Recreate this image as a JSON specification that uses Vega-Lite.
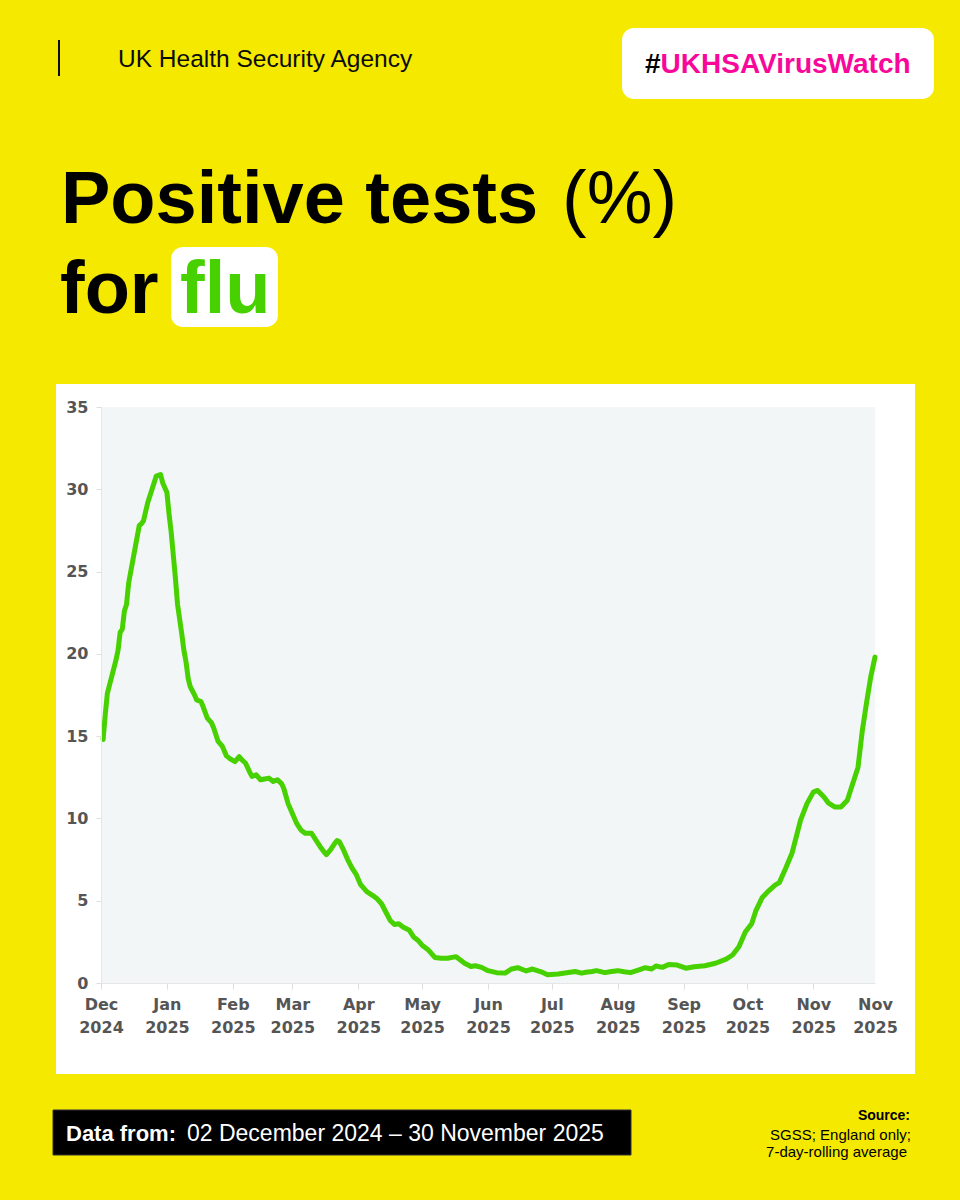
{
  "$schema": "https://vega.github.io/schema/vega-lite/v6.json",
  "width": 774,
  "height": 576,
  "autosize": {"type": "none"},
  "padding": {"left": 101, "top": 407, "right": 85, "bottom": 217},
  "background": "#F5E900",
  "config": {"view": {"stroke": null}, "font": "Liberation Sans"},
  "layer": [
    {
      "data": {"values": [{}]},
      "mark": {"type": "rect", "fill": "#FFFFFF"},
      "encoding": {"x": {"value": -45}, "x2": {"value": 814}, "y": {"value": -23}, "y2": {"value": 667}}
    },
    {
      "data": {"values": [{}]},
      "mark": {"type": "rect", "fill": "#F2F6F7"},
      "encoding": {"x": {"value": 0}, "x2": {"value": 774}, "y": {"value": 0}, "y2": {"value": 576}}
    },
    {
      "data": {"values": [
        {"date": "2024-12-02", "pct": 14.8},
        {"date": "2024-12-03", "pct": 16.3},
        {"date": "2024-12-04", "pct": 17.6},
        {"date": "2024-12-06", "pct": 18.6},
        {"date": "2024-12-08", "pct": 19.6},
        {"date": "2024-12-09", "pct": 20.2},
        {"date": "2024-12-10", "pct": 21.3},
        {"date": "2024-12-11", "pct": 21.5},
        {"date": "2024-12-12", "pct": 22.6},
        {"date": "2024-12-13", "pct": 23.0},
        {"date": "2024-12-14", "pct": 24.3},
        {"date": "2024-12-15", "pct": 25.0},
        {"date": "2024-12-17", "pct": 26.4},
        {"date": "2024-12-19", "pct": 27.8},
        {"date": "2024-12-20", "pct": 27.9},
        {"date": "2024-12-21", "pct": 28.1},
        {"date": "2024-12-23", "pct": 29.2},
        {"date": "2024-12-25", "pct": 30.0},
        {"date": "2024-12-27", "pct": 30.8},
        {"date": "2024-12-29", "pct": 30.9},
        {"date": "2024-12-30", "pct": 30.4},
        {"date": "2025-01-01", "pct": 29.8},
        {"date": "2025-01-02", "pct": 28.5},
        {"date": "2025-01-03", "pct": 27.4},
        {"date": "2025-01-04", "pct": 26.0},
        {"date": "2025-01-05", "pct": 24.6},
        {"date": "2025-01-06", "pct": 23.0},
        {"date": "2025-01-08", "pct": 21.2},
        {"date": "2025-01-09", "pct": 20.2},
        {"date": "2025-01-10", "pct": 19.5},
        {"date": "2025-01-11", "pct": 18.5},
        {"date": "2025-01-12", "pct": 18.0},
        {"date": "2025-01-14", "pct": 17.5},
        {"date": "2025-01-15", "pct": 17.2},
        {"date": "2025-01-17", "pct": 17.1},
        {"date": "2025-01-18", "pct": 16.8},
        {"date": "2025-01-20", "pct": 16.1},
        {"date": "2025-01-22", "pct": 15.8},
        {"date": "2025-01-23", "pct": 15.5},
        {"date": "2025-01-25", "pct": 14.7},
        {"date": "2025-01-27", "pct": 14.4},
        {"date": "2025-01-29", "pct": 13.8},
        {"date": "2025-01-31", "pct": 13.6},
        {"date": "2025-02-02", "pct": 13.45},
        {"date": "2025-02-04", "pct": 13.75},
        {"date": "2025-02-05", "pct": 13.6},
        {"date": "2025-02-07", "pct": 13.35},
        {"date": "2025-02-09", "pct": 12.8},
        {"date": "2025-02-10", "pct": 12.55},
        {"date": "2025-02-12", "pct": 12.65},
        {"date": "2025-02-14", "pct": 12.35},
        {"date": "2025-02-16", "pct": 12.4},
        {"date": "2025-02-18", "pct": 12.45},
        {"date": "2025-02-20", "pct": 12.25},
        {"date": "2025-02-22", "pct": 12.35},
        {"date": "2025-02-24", "pct": 12.1},
        {"date": "2025-02-25", "pct": 11.8},
        {"date": "2025-02-27", "pct": 10.9},
        {"date": "2025-03-01", "pct": 10.3},
        {"date": "2025-03-03", "pct": 9.7},
        {"date": "2025-03-05", "pct": 9.3},
        {"date": "2025-03-07", "pct": 9.1},
        {"date": "2025-03-10", "pct": 9.1},
        {"date": "2025-03-12", "pct": 8.7},
        {"date": "2025-03-14", "pct": 8.3},
        {"date": "2025-03-16", "pct": 7.95},
        {"date": "2025-03-17", "pct": 7.8},
        {"date": "2025-03-19", "pct": 8.1},
        {"date": "2025-03-21", "pct": 8.5},
        {"date": "2025-03-22", "pct": 8.65},
        {"date": "2025-03-23", "pct": 8.6},
        {"date": "2025-03-25", "pct": 8.1},
        {"date": "2025-03-27", "pct": 7.5},
        {"date": "2025-03-29", "pct": 7.0},
        {"date": "2025-03-31", "pct": 6.6},
        {"date": "2025-04-02", "pct": 6.0},
        {"date": "2025-04-05", "pct": 5.55},
        {"date": "2025-04-08", "pct": 5.3},
        {"date": "2025-04-10", "pct": 5.1},
        {"date": "2025-04-12", "pct": 4.8},
        {"date": "2025-04-14", "pct": 4.3},
        {"date": "2025-04-16", "pct": 3.8},
        {"date": "2025-04-18", "pct": 3.55},
        {"date": "2025-04-20", "pct": 3.6},
        {"date": "2025-04-22", "pct": 3.4},
        {"date": "2025-04-25", "pct": 3.2},
        {"date": "2025-04-27", "pct": 2.8},
        {"date": "2025-04-29", "pct": 2.6},
        {"date": "2025-05-01", "pct": 2.3},
        {"date": "2025-05-04", "pct": 2.0},
        {"date": "2025-05-07", "pct": 1.55},
        {"date": "2025-05-10", "pct": 1.5},
        {"date": "2025-05-13", "pct": 1.5},
        {"date": "2025-05-17", "pct": 1.6},
        {"date": "2025-05-19", "pct": 1.4},
        {"date": "2025-05-21", "pct": 1.2},
        {"date": "2025-05-24", "pct": 1.0},
        {"date": "2025-05-26", "pct": 1.05},
        {"date": "2025-05-29", "pct": 0.95},
        {"date": "2025-06-01", "pct": 0.75},
        {"date": "2025-06-05", "pct": 0.63},
        {"date": "2025-06-09", "pct": 0.6},
        {"date": "2025-06-12", "pct": 0.85},
        {"date": "2025-06-15", "pct": 0.93},
        {"date": "2025-06-19", "pct": 0.73},
        {"date": "2025-06-22", "pct": 0.85},
        {"date": "2025-06-26", "pct": 0.68},
        {"date": "2025-06-29", "pct": 0.5},
        {"date": "2025-07-04", "pct": 0.55},
        {"date": "2025-07-08", "pct": 0.62},
        {"date": "2025-07-12", "pct": 0.7},
        {"date": "2025-07-15", "pct": 0.6},
        {"date": "2025-07-17", "pct": 0.65},
        {"date": "2025-07-20", "pct": 0.7},
        {"date": "2025-07-22", "pct": 0.75},
        {"date": "2025-07-26", "pct": 0.63},
        {"date": "2025-07-29", "pct": 0.7},
        {"date": "2025-08-01", "pct": 0.75},
        {"date": "2025-08-04", "pct": 0.68},
        {"date": "2025-08-07", "pct": 0.63},
        {"date": "2025-08-11", "pct": 0.8},
        {"date": "2025-08-14", "pct": 0.93},
        {"date": "2025-08-17", "pct": 0.85},
        {"date": "2025-08-19", "pct": 1.03},
        {"date": "2025-08-22", "pct": 0.95},
        {"date": "2025-08-25", "pct": 1.13},
        {"date": "2025-08-29", "pct": 1.09},
        {"date": "2025-09-02", "pct": 0.9},
        {"date": "2025-09-06", "pct": 0.99},
        {"date": "2025-09-11", "pct": 1.05},
        {"date": "2025-09-16", "pct": 1.2},
        {"date": "2025-09-21", "pct": 1.45},
        {"date": "2025-09-24", "pct": 1.7},
        {"date": "2025-09-27", "pct": 2.2},
        {"date": "2025-09-29", "pct": 2.8},
        {"date": "2025-09-30", "pct": 3.1},
        {"date": "2025-10-03", "pct": 3.6},
        {"date": "2025-10-05", "pct": 4.4},
        {"date": "2025-10-08", "pct": 5.2},
        {"date": "2025-10-11", "pct": 5.6},
        {"date": "2025-10-14", "pct": 5.95},
        {"date": "2025-10-16", "pct": 6.1},
        {"date": "2025-10-19", "pct": 6.97},
        {"date": "2025-10-22", "pct": 7.9},
        {"date": "2025-10-24", "pct": 8.9},
        {"date": "2025-10-26", "pct": 9.9},
        {"date": "2025-10-29", "pct": 10.9},
        {"date": "2025-11-01", "pct": 11.6},
        {"date": "2025-11-03", "pct": 11.7},
        {"date": "2025-11-06", "pct": 11.3},
        {"date": "2025-11-08", "pct": 10.95},
        {"date": "2025-11-11", "pct": 10.7},
        {"date": "2025-11-14", "pct": 10.7},
        {"date": "2025-11-17", "pct": 11.1},
        {"date": "2025-11-20", "pct": 12.3},
        {"date": "2025-11-22", "pct": 13.1},
        {"date": "2025-11-24", "pct": 15.3},
        {"date": "2025-11-26", "pct": 17.0},
        {"date": "2025-11-28", "pct": 18.6},
        {"date": "2025-11-30", "pct": 19.8}
      ]},
      "mark": {"type": "line", "color": "#47D100", "strokeWidth": 5, "strokeCap": "round", "strokeJoin": "round"},
      "encoding": {
        "x": {
          "field": "date",
          "type": "temporal",
          "scale": {
            "type": "utc",
            "domain": [
              {"year": 2024, "month": 12, "date": 1, "utc": true},
              {"year": 2025, "month": 11, "date": 30, "utc": true}
            ]
          },
          "axis": {
            "title": null,
            "zindex": 1,
            "grid": false,
            "values": [
              {"year": 2024, "month": 12, "date": 1, "utc": true},
              {"year": 2025, "month": 1, "date": 1, "utc": true},
              {"year": 2025, "month": 2, "date": 1, "utc": true},
              {"year": 2025, "month": 3, "date": 1, "utc": true},
              {"year": 2025, "month": 4, "date": 1, "utc": true},
              {"year": 2025, "month": 5, "date": 1, "utc": true},
              {"year": 2025, "month": 6, "date": 1, "utc": true},
              {"year": 2025, "month": 7, "date": 1, "utc": true},
              {"year": 2025, "month": 8, "date": 1, "utc": true},
              {"year": 2025, "month": 9, "date": 1, "utc": true},
              {"year": 2025, "month": 10, "date": 1, "utc": true},
              {"year": 2025, "month": 11, "date": 1, "utc": true},
              {"year": 2025, "month": 11, "date": 30, "utc": true}
            ],
            "labelExpr": "[utcFormat(datum.value, '%b'), utcFormat(datum.value, '%Y')]",
            "labelFont": "DejaVu Sans",
            "labelFontSize": 16,
            "labelFontWeight": "bold",
            "labelColor": "#555555",
            "labelLineHeight": 23,
            "labelPadding": 7,
            "labelOverlap": false,
            "labelBound": false,
            "labelFlush": false,
            "tickSize": 6,
            "tickColor": {"condition": {"test": "datum.value > utc(2025, 10, 15)", "value": "transparent"}, "value": "#DDDDDD"},
            "domainColor": "#E6E6E6",
            "domainWidth": 1
          }
        },
        "y": {
          "field": "pct",
          "type": "quantitative",
          "scale": {"domain": [0, 35], "nice": false, "zero": true},
          "axis": {
            "title": null,
            "zindex": 1,
            "grid": false,
            "values": [0, 5, 10, 15, 20, 25, 30, 35],
            "labelFont": "DejaVu Sans",
            "labelFontSize": 16,
            "labelFontWeight": "bold",
            "labelColor": "#555555",
            "labelPadding": 8,
            "tickSize": 5,
            "tickColor": "#DDDDDD",
            "domainColor": "#E6E6E6"
          }
        }
      }
    },
    {
      "data": {"values": [{}]},
      "mark": {"type": "rect", "fill": "#0B0C0C"},
      "encoding": {"x": {"value": -43}, "x2": {"value": -41}, "y": {"value": -367}, "y2": {"value": -331}}
    },
    {
      "data": {"values": [{}]},
      "mark": {"type": "text", "text": "UK Health Security Agency", "x": 17, "y": -340, "align": "left", "baseline": "alphabetic", "font": "Liberation Sans", "fontSize": 24.5, "color": "#0B0C0C"}
    },
    {
      "data": {"values": [{}]},
      "mark": {"type": "rect", "fill": "#FFFFFF", "cornerRadius": 12},
      "encoding": {"x": {"value": 521}, "x2": {"value": 833}, "y": {"value": -379}, "y2": {"value": -308}}
    },
    {
      "data": {"values": [{}]},
      "mark": {"type": "text", "text": "#", "x": 544, "y": -334, "align": "left", "baseline": "alphabetic", "font": "Liberation Sans", "fontSize": 28, "fontWeight": "bold", "color": "#000000"}
    },
    {
      "data": {"values": [{}]},
      "mark": {"type": "text", "text": "UKHSAVirusWatch", "x": 559.6, "y": -334, "align": "left", "baseline": "alphabetic", "font": "Liberation Sans", "fontSize": 28, "fontWeight": "bold", "color": "#F7089A"}
    },
    {
      "data": {"values": [{}]},
      "mark": {"type": "text", "text": "Positive tests", "x": -40, "y": -184, "align": "left", "baseline": "alphabetic", "font": "Liberation Sans", "fontSize": 74, "fontWeight": "bold", "color": "#000000"}
    },
    {
      "data": {"values": [{}]},
      "mark": {"type": "text", "text": "(%)", "x": 461, "y": -184, "align": "left", "baseline": "alphabetic", "font": "Liberation Sans", "fontSize": 74, "fontWeight": "normal", "color": "#000000"}
    },
    {
      "data": {"values": [{}]},
      "mark": {"type": "text", "text": "for", "x": -41, "y": -94, "align": "left", "baseline": "alphabetic", "font": "Liberation Sans", "fontSize": 74, "fontWeight": "bold", "color": "#000000"}
    },
    {
      "data": {"values": [{}]},
      "mark": {"type": "rect", "fill": "#FFFFFF", "cornerRadius": 12},
      "encoding": {"x": {"value": 70}, "x2": {"value": 177}, "y": {"value": -160}, "y2": {"value": -80}}
    },
    {
      "data": {"values": [{}]},
      "mark": {"type": "text", "text": "flu", "x": 79, "y": -94, "align": "left", "baseline": "alphabetic", "font": "Liberation Sans", "fontSize": 74, "fontWeight": "bold", "color": "#47D100"}
    },
    {
      "data": {"values": [{}]},
      "mark": {"type": "rect", "fill": "#000000", "stroke": "#333333", "strokeWidth": 1},
      "encoding": {"x": {"value": -48}, "x2": {"value": 530}, "y": {"value": 703}, "y2": {"value": 748}}
    },
    {
      "data": {"values": [{}]},
      "mark": {"type": "text", "text": "Data from:", "x": -35, "y": 734, "align": "left", "baseline": "alphabetic", "font": "Liberation Sans", "fontSize": 22, "fontWeight": "bold", "color": "#FFFFFF"}
    },
    {
      "data": {"values": [{}]},
      "mark": {"type": "text", "text": "02 December 2024 – 30 November 2025", "x": 86, "y": 734, "align": "left", "baseline": "alphabetic", "font": "Liberation Sans", "fontSize": 23, "color": "#FFFFFF"}
    },
    {
      "data": {"values": [{}]},
      "mark": {"type": "text", "text": "Source:", "x": 809, "y": 713, "align": "right", "baseline": "alphabetic", "font": "Liberation Sans", "fontSize": 14, "fontWeight": "bold", "color": "#000000"}
    },
    {
      "data": {"values": [{}]},
      "mark": {"type": "text", "text": "SGSS; England only;", "x": 810, "y": 733, "align": "right", "baseline": "alphabetic", "font": "Liberation Sans", "fontSize": 15, "color": "#000000"}
    },
    {
      "data": {"values": [{}]},
      "mark": {"type": "text", "text": "7-day-rolling average", "x": 806, "y": 750, "align": "right", "baseline": "alphabetic", "font": "Liberation Sans", "fontSize": 15, "color": "#000000"}
    }
  ]
}
